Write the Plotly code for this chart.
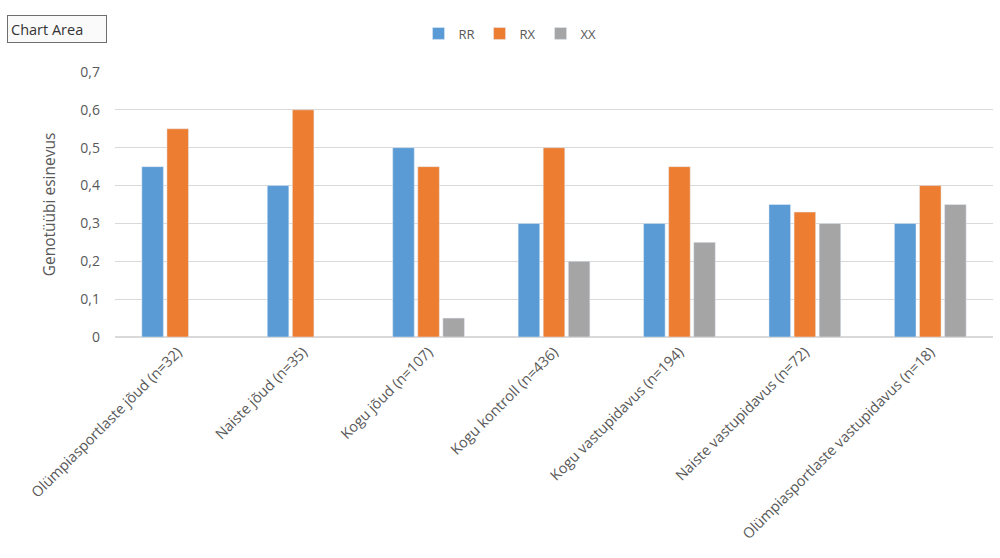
import plotly.graph_objects as go

categories = [
    "Olümpiasportlaste jõud (n=32)",
    "Naiste jõud (n=35)",
    "Kogu jõud (n=107)",
    "Kogu kontroll (n=436)",
    "Kogu vastupidavus (n=194)",
    "Naiste vastupidavus (n=72)",
    "Olümpiasportlaste vastupidavus (n=18)",
]
rr = [0.45, 0.40, 0.50, 0.30, 0.30, 0.35, 0.30]
rx = [0.55, 0.60, 0.45, 0.50, 0.45, 0.33, 0.40]
xx = [None, None, 0.05, 0.20, 0.25, 0.30, 0.35]
y_ticks = [0, 0.1, 0.2, 0.3, 0.4, 0.5, 0.6, 0.7]

FONT = "Open Sans"
TXT = "#595959"

fig = go.Figure()
fig.add_bar(name="RR", x=categories, y=rr, marker_color="#5B9BD5")
fig.add_bar(name="RX", x=categories, y=rx, marker_color="#ED7D31")
fig.add_bar(name="XX", x=categories, y=xx, marker_color="#A5A5A5")

fig.update_layout(
    width=1000, height=558,
    margin=dict(l=115, r=7, t=72, b=221),
    paper_bgcolor="white", plot_bgcolor="white",
    barmode="group", bargap=0.40, bargroupgap=0.14,
    separators=", ",
    font=dict(family=FONT, size=13, color=TXT),
    showlegend=True,
    legend=dict(orientation="h", xref="container", yref="container",
                x=0.51, xanchor="center", y=0.94, yanchor="middle",
                font=dict(size=13, color=TXT), itemwidth=30,
                tracegroupgap=0, traceorder="normal"),
    xaxis=dict(tickangle=-45, showgrid=False, showline=True,
               linecolor="#D9D9D9", linewidth=1, ticks="",
               tickfont=dict(size=14.5, color=TXT)),
    yaxis=dict(range=[0, 0.7], tickvals=y_ticks,
               ticktext=[("%g" % v).replace(".", ",") for v in y_ticks],
               showgrid=True, gridcolor="#D9D9D9", gridwidth=1,
               zeroline=True, zerolinecolor="#D9D9D9", showline=False,
               ticks="", ticklabelstandoff=14,
               tickfont=dict(size=14, color=TXT),
               title=dict(text="Genotüübi esinevus", standoff=20,
                          font=dict(size=15.5, color=TXT))),
)

fig.add_annotation(
    text="Chart Area", xref="paper", yref="paper",
    x=-0.123, y=1.163, xanchor="left", yanchor="middle",
    width=92, height=20, align="left",
    showarrow=False, font=dict(family=FONT, size=14.5, color="#333333"),
    bgcolor="#FAFAFA", bordercolor="#6E6E6E", borderwidth=1, borderpad=3,
)

fig.write_html("out.html")
